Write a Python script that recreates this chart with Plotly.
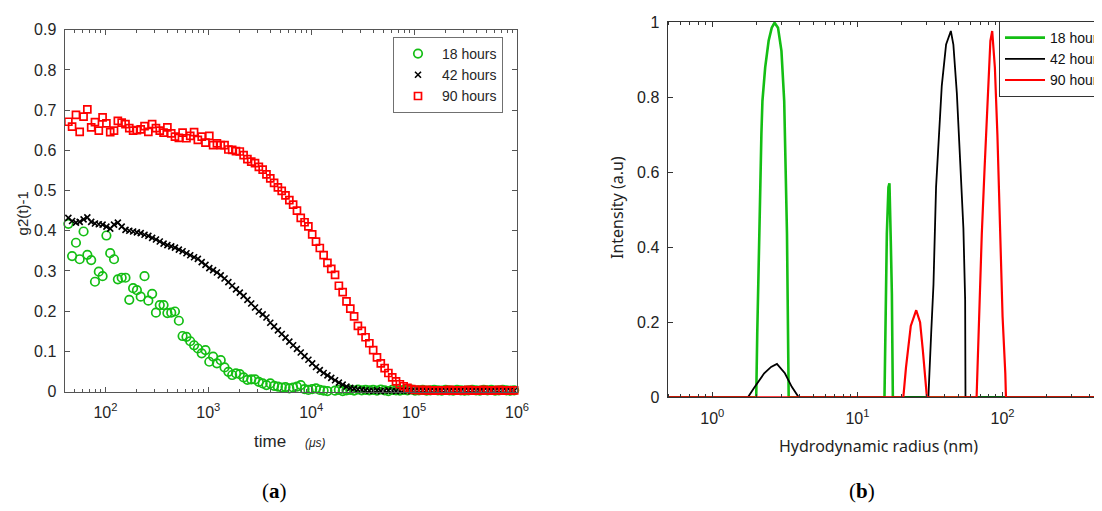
import plotly.graph_objects as go

# ---------------- Panel (a): correlation functions ----------------
time_us = [
    40.0, 43.6, 47.4, 51.7, 56.2, 61.3, 66.7, 72.7, 79.1, 86.2, 93.8, 102.2, 111.3, 121.2,
    132.0, 143.8, 156.6, 170.5, 185.7, 202.2, 220.2, 239.8, 261.2, 284.4, 309.7, 337.3, 367.3,
    400, 436, 474, 517, 562, 613, 667, 727, 791, 862, 938, 1022, 1113, 1212,
    1320, 1438, 1566, 1705, 1857, 2022, 2202, 2398, 2612, 2844, 3097, 3373, 3673,
    4000, 4356, 4744, 5168, 5624, 6128, 6672, 7268, 7912, 8616, 9384, 10220, 11130, 12120,
    13200, 14380, 15660, 17050, 18570, 20220, 22020, 23980, 26120, 28440, 30970, 33730, 36730,
    40000, 43560, 47440, 51680, 56240, 61280, 66720, 72680, 79120, 86160, 93840, 102200, 111300, 121200,
    132000, 143800, 156600, 170500, 185700, 202200, 220200, 239800, 261200, 284400, 309700, 337300, 367300,
    400000, 435600, 474400, 516800, 562400, 612800, 667200, 726800, 791200, 861600, 938400,
]

g2_18h = [
    0.443, 0.417, 0.337, 0.370, 0.329, 0.398, 0.340, 0.327, 0.273, 0.298, 0.287, 0.388, 0.344, 0.329,
    0.279, 0.283, 0.283, 0.228, 0.257, 0.252, 0.236, 0.287, 0.226, 0.243, 0.196, 0.215, 0.215,
    0.195, 0.196, 0.199, 0.176, 0.138, 0.136, 0.125, 0.115, 0.107, 0.095, 0.103, 0.074, 0.087, 0.070,
    0.078, 0.060, 0.049, 0.041, 0.045, 0.043, 0.035, 0.029, 0.030, 0.030, 0.024, 0.020, 0.016,
    0.020, 0.014, 0.012, 0.010, 0.011, 0.008, 0.010, 0.012, 0.016, 0.006, 0.004, 0.006, 0.008, 0.004,
    0.002, 0.001, -0.003, 0.002, 0.004, 0.001, 0.003, 0.004, 0.002, 0.005, 0.003, 0.004, 0.003,
    0.004, 0.002, 0.005, 0.003, 0.001, 0.004, 0.003, 0.002, 0.004, 0.003, 0.005, 0.002, 0.003, 0.004,
    0.002, 0.003, 0.004, 0.003, 0.002, 0.004, 0.003, 0.002, 0.004, 0.003, 0.002, 0.003, 0.004,
    0.003, 0.002, 0.004, 0.003, 0.004, 0.002, 0.003, 0.004, 0.003, 0.002, 0.003,
]

g2_42h = [
    0.425, 0.432, 0.424, 0.420, 0.422, 0.428, 0.433, 0.422, 0.418, 0.416, 0.415, 0.410, 0.405, 0.415,
    0.420, 0.410, 0.402, 0.400, 0.398, 0.396, 0.394, 0.390, 0.387, 0.382, 0.378, 0.373, 0.368,
    0.364, 0.361, 0.358, 0.353, 0.349, 0.344, 0.339, 0.334, 0.330, 0.322, 0.315, 0.307, 0.302, 0.296,
    0.289, 0.281, 0.272, 0.263, 0.254, 0.246, 0.238, 0.228, 0.219, 0.209, 0.199, 0.192, 0.184,
    0.171, 0.162, 0.152, 0.143, 0.134, 0.124, 0.115, 0.106, 0.097, 0.088, 0.079, 0.070, 0.061, 0.053,
    0.046, 0.040, 0.034, 0.028, 0.022, 0.017, 0.012, 0.009, 0.007, 0.005, 0.004, 0.003, 0.002,
    0.002, 0.003, 0.001, 0.002, 0.003, 0.002, 0.001, 0.002, 0.003, 0.002, 0.001, 0.002, 0.002, 0.003,
    0.001, 0.002, 0.002, 0.001, 0.003, 0.002, 0.001, 0.002, 0.002, 0.001, 0.002, 0.003, 0.002,
    0.002, 0.001, 0.002, 0.002, 0.001, 0.002, 0.003, 0.002, 0.001, 0.002, 0.002,
]

g2_90h = [
    0.693, 0.671, 0.659, 0.688, 0.646, 0.684, 0.702, 0.657, 0.670, 0.649, 0.682, 0.667, 0.645, 0.649,
    0.673, 0.669, 0.665, 0.655, 0.649, 0.650, 0.652, 0.660, 0.646, 0.665, 0.655, 0.649, 0.644,
    0.657, 0.642, 0.634, 0.631, 0.644, 0.630, 0.636, 0.645, 0.626, 0.634, 0.619, 0.636, 0.613, 0.617,
    0.613, 0.613, 0.602, 0.601, 0.598, 0.597, 0.588, 0.578, 0.572, 0.568, 0.559, 0.552, 0.540,
    0.530, 0.519, 0.508, 0.499, 0.488, 0.476, 0.465, 0.450, 0.432, 0.421, 0.411, 0.391, 0.373, 0.357,
    0.339, 0.320, 0.305, 0.290, 0.263, 0.247, 0.224, 0.206, 0.187, 0.163, 0.151, 0.135, 0.120,
    0.103, 0.085, 0.070, 0.058, 0.046, 0.035, 0.025, 0.018, 0.013, 0.009, 0.006, 0.004, 0.004, 0.003,
    0.004, 0.002, 0.003, 0.002, 0.003, 0.002, 0.004, 0.002, 0.003, 0.002, 0.003, 0.004, 0.002,
    0.003, 0.002, 0.004, 0.003, 0.002, 0.003, 0.004, 0.002, 0.003, 0.002, 0.003,
]

time_tickvals = [100, 1000, 10000, 100000, 1000000]
time_ticktext = ["10<sup>2</sup>", "10<sup>3</sup>", "10<sup>4</sup>", "10<sup>5</sup>", "10<sup>6</sup>"]
g2_tickvals = [0, 0.1, 0.2, 0.3, 0.4, 0.5, 0.6, 0.7, 0.8, 0.9]
g2_ticktext = ["0", "0.1", "0.2", "0.3", "0.4", "0.5", "0.6", "0.7", "0.8", "0.9"]

# ---------------- Panel (b): size distributions ----------------
radius_18h = [0.45, 2.006, 2.039, 2.096, 2.131, 2.178, 2.214, 2.313, 2.443, 2.567, 2.683, 2.834,
              2.993, 3.127, 3.214, 3.268, 3.304, 3.358, 15.35, 15.77, 15.94, 16.35, 16.61, 16.98,
              17.26, 17.53, 1000]
intens_18h = [0, 0, 0.170, 0.347, 0.524, 0.702, 0.790, 0.879, 0.950, 0.985, 0.998, 0.985,
              0.923, 0.790, 0.613, 0.436, 0.259, 0, 0, 0.276, 0.436, 0.560, 0.570, 0.409,
              0.276, 0, 0]

radius_42h = [0.45, 1.759, 1.931, 2.276, 2.540, 2.787, 3.162, 3.528, 3.937, 30.8, 32.2, 33.4,
              34.8, 36.7, 38.1, 40.8, 44.0, 45.8, 48.4, 51.0, 53.7, 55.2, 55.5, 1000]
intens_42h = [0, 0, 0.024, 0.064, 0.081, 0.089, 0.064, 0.028, 0, 0, 0.17, 0.30,
              0.56, 0.72, 0.83, 0.94, 0.976, 0.94, 0.81, 0.63, 0.45, 0.26, 0, 0]

radius_90h = [0.45, 20.7, 21.6, 22.5, 23.3, 25.4, 27.0, 28.2, 29.3, 30.1, 66.2, 68.9, 71.9,
              75.2, 78.9, 82.4, 84.8, 88.5, 92.1, 95.6, 100.0, 104.4, 105.5, 1000]
intens_90h = [0, 0, 0.08, 0.14, 0.19, 0.232, 0.20, 0.126, 0.04, 0, 0, 0.214, 0.436,
              0.613, 0.79, 0.95, 0.976, 0.878, 0.70, 0.453, 0.214, 0.064, 0, 0]

radius_tickvals = [1, 10, 100]
radius_ticktext = ["10<sup>0</sup>", "10<sup>1</sup>", "10<sup>2</sup>"]
intens_tickvals = [0, 0.2, 0.4, 0.6, 0.8, 1.0]
intens_ticktext = ["0", "0.2", "0.4", "0.6", "0.8", "1"]

series_labels = ["18 hours", "42 hours", "90 hours"]
GREEN = "rgb(20,190,20)"
BLACK = "#000000"
RED = "#ff0000"

# The page body has an 8 px margin: the figure is placed at (8, 8) in the window.
OFF = 8
W, H = 1102 - OFF, 511 - OFF


def px(x):
    return (x - OFF) / W


def py(y):
    return 1 - (y - OFF) / H


fig = go.Figure()

# Panel (a) traces
fig.add_trace(go.Scatter(
    x=time_us, y=g2_18h, mode="markers", name=series_labels[0],
    marker=dict(symbol="circle-open", size=8.5, color=GREEN, line=dict(width=1.7, color=GREEN)),
    xaxis="x", yaxis="y", cliponaxis=False, legend="legend"))
fig.add_trace(go.Scatter(
    x=time_us, y=g2_42h, mode="markers", name=series_labels[1],
    marker=dict(symbol="x-thin", size=6, color=BLACK, line=dict(width=1.6, color=BLACK)),
    xaxis="x", yaxis="y", cliponaxis=False, legend="legend"))
fig.add_trace(go.Scatter(
    x=time_us, y=g2_90h, mode="markers", name=series_labels[2],
    marker=dict(symbol="square-open", size=7, color=RED, line=dict(width=1.7, color=RED)),
    xaxis="x", yaxis="y", cliponaxis=False, legend="legend"))

# Panel (b) traces
fig.add_trace(go.Scatter(
    x=radius_18h, y=intens_18h, mode="lines", name=series_labels[0],
    line=dict(color=GREEN, width=2.6), xaxis="x2", yaxis="y2", legend="legend2"))
fig.add_trace(go.Scatter(
    x=radius_42h, y=intens_42h, mode="lines", name=series_labels[1],
    line=dict(color=BLACK, width=1.8), xaxis="x2", yaxis="y2", legend="legend2"))
fig.add_trace(go.Scatter(
    x=radius_90h, y=intens_90h, mode="lines", name=series_labels[2],
    line=dict(color=RED, width=2.2), xaxis="x2", yaxis="y2", legend="legend2"))

tickfont_a = dict(family="Liberation Sans, Arial, sans-serif", size=16, color="#262626")
tickfont_b = dict(family="Liberation Sans, Arial, sans-serif", size=16, color="#222222")
axcol_a = "#555555"
axcol_b = "#333333"

fig.update_layout(
    width=W, height=H,
    margin=dict(l=0, r=0, t=0, b=0, autoexpand=False),
    paper_bgcolor="white", plot_bgcolor="white",
    showlegend=True,
    xaxis=dict(
        domain=[px(64.5), px(517)], anchor="y", type="log",
        range=[1.6021, 6.0], tickmode="array", tickvals=time_tickvals, ticktext=time_ticktext,
        ticks="inside", ticklen=5, tickwidth=1, tickcolor=axcol_a, ticklabelstandoff=6,
        minor=dict(ticks="inside", ticklen=3, tickcolor=axcol_a, dtick="D1", showgrid=False),
        showline=True, linecolor=axcol_a, linewidth=1, mirror="ticks",
        showgrid=False, zeroline=False, tickfont=tickfont_a,
    ),
    yaxis=dict(
        domain=[py(391.5), py(29.7)], anchor="x",
        range=[0, 0.9], tickmode="array", tickvals=g2_tickvals, ticktext=g2_ticktext,
        ticks="inside", ticklen=5, tickwidth=1, tickcolor=axcol_a, ticklabelstandoff=4,
        showline=True, linecolor=axcol_a, linewidth=1, mirror="ticks",
        showgrid=False, zeroline=False, tickfont=tickfont_a,
    ),
    xaxis2=dict(
        domain=[px(667.5), 1.0], anchor="y2", type="log",
        range=[-0.309, 2.685], tickmode="array", tickvals=radius_tickvals, ticktext=radius_ticktext,
        ticks="inside", ticklen=5, tickwidth=1, tickcolor=axcol_b, ticklabelstandoff=6,
        minor=dict(ticks="inside", ticklen=3, tickcolor=axcol_b, dtick="D1", showgrid=False),
        showline=True, linecolor=axcol_b, linewidth=1, mirror="ticks",
        showgrid=False, zeroline=False, tickfont=tickfont_b,
    ),
    yaxis2=dict(
        domain=[py(397.3), py(22)], anchor="x2",
        range=[0, 1], tickmode="array", tickvals=intens_tickvals, ticktext=intens_ticktext,
        ticks="inside", ticklen=5, tickwidth=1, tickcolor=axcol_b, ticklabelstandoff=4,
        showline=True, linecolor=axcol_b, linewidth=1, mirror=False,
        showgrid=False, zeroline=False, tickfont=tickfont_b,
    ),
    legend=dict(
        x=px(393), y=py(37), xanchor="left", yanchor="top", itemwidth=38,
        bgcolor="white", bordercolor="#707070", borderwidth=1,
        font=dict(family="Liberation Sans, Arial, sans-serif", size=14, color="#262626"),
    ),
    legend2=dict(
        x=px(999), y=py(21), xanchor="left", yanchor="top", itemwidth=40,
        bgcolor="white", bordercolor="#333333", borderwidth=1,
        font=dict(family="Liberation Sans, Arial, sans-serif", size=14, color="#111111"),
    ),
)

ann_font = dict(family="Liberation Sans, Arial, sans-serif", color="#262626")
annotations = [
    dict(text="g2(t)-1", x=px(22.4), y=py(213), textangle=-90, font=dict(size=15, **ann_font)),
    dict(text="time", x=px(270), y=py(441.5), font=dict(size=17, **ann_font)),
    dict(text="<i>(μs)</i>", x=px(315), y=py(443), font=dict(size=12, **ann_font)),
    dict(text="Intensity (a.u)", x=px(617), y=py(208), textangle=-90,
         font=dict(size=16, family="Noto Sans, sans-serif", color="#222222")),
    dict(text="Hydrodynamic radius (nm)", x=px(878), y=py(445.7),
         font=dict(size=16, family="Noto Sans, sans-serif", color="#222222")),
    dict(text="(<b>a</b>)", x=px(274), y=py(491),
         font=dict(size=21, family="Liberation Serif, DejaVu Serif, serif", color="#000000")),
    dict(text="(<b>b</b>)", x=px(862), y=py(491),
         font=dict(size=21, family="Liberation Serif, DejaVu Serif, serif", color="#000000")),
]
for a in annotations:
    a.update(xref="paper", yref="paper", showarrow=False, xanchor="center", yanchor="middle")
fig.update_layout(annotations=annotations)

fig.write_html("out.html")
